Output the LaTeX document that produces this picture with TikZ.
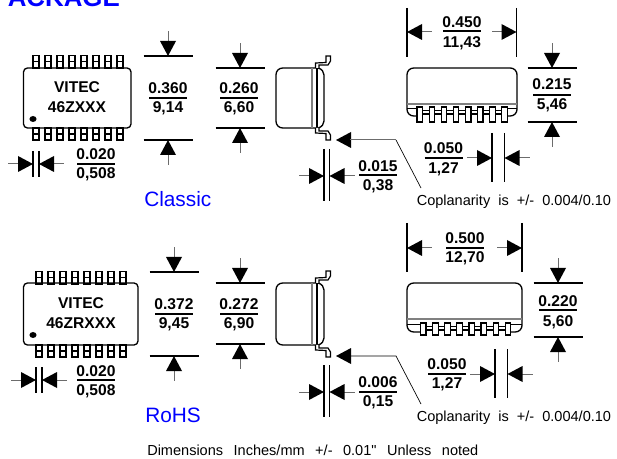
\documentclass[tikz,border=0pt]{standalone}
\usepackage{fontspec}
\setmainfont{Liberation Sans}
\newfontfamily\straightfont{Liberation Sans}
\usepackage{xcolor}
\usetikzlibrary{shapes.misc}

\tikzset{
    dimtext/.style={font=\fontsize{11.7}{13}\selectfont\bfseries, anchor=base, yshift=-4.2pt, inner sep=0pt},
    plaintext/.style={font=\straightfont\fontsize{10.9}{13}\selectfont, anchor=base west, yshift=-3.9pt, inner sep=0pt},
    bluetext/.style={font=\fontsize{15.6}{18}\selectfont, text=blue, anchor=base west, yshift=-5.6pt, inner sep=0pt},
    dimbar/.style={line width=1pt},
    dimline/.style={line width=1pt},
    stemline/.style={line width=0.75pt, gray!85!black},
    bodyline/.style={line width=1pt, rounded corners=3pt},
    pinline/.style={line width=0.9pt}
}

% arrow head with tip at (x,y) pointing along the given angle
\newcommand{\dimhead}[3]{
    \begin{scope}[shift={(#1,#2)}, rotate=#3]
        \draw[stemline] (-14,0) -- (-25,0);
        \fill[black] (0,0) -- (-15,8) -- (-15,-8) -- cycle;
    \end{scope}
}
% x, line y top, line y bottom: extension lines with arrows from outside
\newcommand{\heightdim}[3]{
    \draw[dimline] (#1-24.5,#2) -- (#1+24.5,#2);
    \draw[dimline] (#1-24.5,#3) -- (#1+24.5,#3);
    \dimhead{#1}{#2}{-90}
    \dimhead{#1}{#3}{90}
}
% left x, right x, y top, y bottom, y of arrows: arrows from outside
\newcommand{\gapdim}[5]{
    \draw[dimline] (#1,#3) -- (#1,#4);
    \draw[dimline] (#2,#3) -- (#2,#4);
    \dimhead{#1}{#5}{0}
    \dimhead{#2}{#5}{180}
}
% left x, right x, y top, y bottom, y of arrows: arrows from inside
\newcommand{\widthdim}[5]{
    \draw[dimline] (#1,#3) -- (#1,#4);
    \draw[dimline] (#2,#3) -- (#2,#4);
    \dimhead{#1}{#5}{180}
    \dimhead{#2}{#5}{0}
}
% name, x, y top text, y bar, y bottom text, top text, bottom text
\newcommand{\dimlabel}[7]{
    \node[dimtext] (#1top) at (#2,#3) {#6};
    \node[dimtext] (#1bot) at (#2,#5) {#7};
    \draw[dimbar] (#2-19,#4) -- (#2+19,#4);
}
% x of first pin, y body top, y body bottom
\newcommand{\pinrows}[3]{
    \foreach \i in {0,...,7} {
        \draw[pinline] (#1+12*\i,#2-12.5) rectangle (#1+12*\i+6,#2);
        \draw[pinline] (#1+12*\i,#2-6.5) -- (#1+12*\i+6,#2-6.5);
        \draw[pinline] (#1+12*\i,#3) rectangle (#1+12*\i+6,#3+12);
        \draw[pinline] (#1+12*\i,#3+6) -- (#1+12*\i+6,#3+6);
    }
}
% y body top, y body bottom
\newcommand{\sideview}[2]{
    \draw[bodyline, rounded corners=5pt] (317,#1) -- (276,#1) -- (276,#2) -- (317,#2);
    \draw[line width=1pt] (317,#1) -- (317,#2);
    \draw[line width=1pt] (318,#1) .. controls (322,#1+1) and (324,#1+4) .. (324,#1+7) -- (324,#2-7) .. controls (324,#2-4) and (322,#2-1) .. (318,#2);
    \draw[line width=0.8pt, gray] (312,#1) -- (312,#2);
    \draw[pinline, fill=white] (315.5,#1) -- (315.5,#1-5) -- (326,#1-5.5) -- (326,#1-12) -- (330.5,#1-12) -- (330.5,#1-7) -- (328,#1-3) -- (319,#1-3) -- (319,#1);
    \draw[pinline, fill=white] (315.5,#2) -- (315.5,#2+5) -- (326,#2+5.5) -- (326,#2+12) -- (330.5,#2+12) -- (330.5,#2+7) -- (328,#2+3) -- (319,#2+3) -- (319,#2);
}
% x left, x right, y top, y pins top, y outline end, y pin bottom, x of first pin, y gray line
\newcommand{\frontview}[8]{
    \draw[line width=1pt, rounded corners=5pt] (#7,#5) -- (#1,#5) -- (#1,#3) -- (#2,#3) -- (#2,#5) -- (#7+90,#5);
    \draw[line width=0.8pt, gray] (#1,#8) -- (#2,#8);
    \draw[line width=1pt] (#1,#4+1.5) -- (#7,#4+1.5);
    \draw[line width=1pt] (#7+90,#4+1.5) -- (#2,#4+1.5);
    \draw[line width=0.8pt] (#7,#5-5.5) -- (#7+90,#5-5.5);
    \draw[line width=0.8pt] (#7,#5-2) -- (#7+90,#5-2);
    \foreach \i in {0,...,7} {
        \draw[pinline, fill=white] (#7+12.1*\i,#4) rectangle (#7+12.1*\i+5.5,#6);
    }
}

\begin{document}
\begin{tikzpicture}[x=0.75pt, y=-0.75pt]
    \useasboundingbox (0,0) rectangle (617,459);
    \fill[white] (0,0) rectangle (617,459);

    \node[font=\fontsize{19.4}{22}\selectfont\bfseries, text=blue, anchor=base west, inner sep=0pt] (title) at (7.5,6.5) {ACKAGE};

    % Classic
    \draw[bodyline] (23.5,68) rectangle (131,128);
    \pinrows{33}{68}{128}
    \fill[black] (33,119) ellipse (3.6 and 3);
    \node[dimtext] (markone) at (77,87) {VITEC};
    \node[dimtext] (parttwo) at (77,107) {46ZXXX};
    \heightdim{168}{56}{140}
    \dimlabel{hone}{168}{88}{98}{107}{0.360}{9,14}
    \gapdim{33}{39}{151}{177}{164}
    \dimlabel{pone}{96}{154}{164}{173}{0.020}{0,508}
    \node[bluetext] (classic) at (144,199) {Classic};

    \sideview{68}{128}
    \heightdim{240}{68}{128}
    \dimlabel{htwo}{239}{88}{98}{107}{0.260}{6,60}
    \gapdim{324}{329.5}{149}{201}{176}
    \dimlabel{lone}{378}{166}{175}{185}{0.015}{0,38}

    \frontview{407}{517}{68}{107}{116}{122}{417}{104}
    \widthdim{407}{516.5}{8}{57}{32}
    \dimlabel{wone}{462}{22}{31}{42}{0.450}{11,43}
    \heightdim{552}{68}{122}
    \dimlabel{hthree}{552}{84}{95}{104}{0.215}{5,46}
    \gapdim{492}{504.5}{133}{182}{158}
    \dimlabel{gone}{443.5}{148}{158}{168}{0.050}{1,27}

    \node[plaintext] (coplone) at (416.5,200) {Coplanarity\ \ is\ \ +/-\ \ 0.004/0.10};
    \coordinate (bendone) at (396,140);
    \coordinate (footone) at (421,188);
    \coordinate (tipone) at (336,140);
    \fill[black] (tipone) -- (351,132) -- (351,148) -- cycle;
    \draw[stemline] (tipone) ++(14,0) -- (bendone);
    \draw[line width=0.5pt] (bendone) -- (footone);

    % RoHS
    \draw[bodyline] (23.5,283) rectangle (138,345);
    \pinrows{36}{284}{345}
    \fill[black] (33,335) ellipse (3.6 and 3);
    \node[dimtext] (markthree) at (81,303) {VITEC};
    \node[dimtext] (partfour) at (81,323) {46ZRXXX};
    \heightdim{174}{272}{356}
    \dimlabel{hfour}{174}{304}{314}{323}{0.372}{9,45}
    \gapdim{36}{42}{367}{393}{380}
    \dimlabel{ptwo}{96}{371}{380}{390}{0.020}{0,508}
    \node[bluetext] (rohs) at (145,415) {RoHS};

    \sideview{283}{345}
    \heightdim{240}{283}{344}
    \dimlabel{hfive}{239}{304}{314}{323}{0.272}{6,90}
    \gapdim{324}{329.5}{365}{417}{392}
    \dimlabel{ltwo}{378}{382}{392}{401}{0.006}{0,15}

    \frontview{407}{522}{283}{323}{332}{335}{420.5}{319}
    \widthdim{407}{522}{223}{272}{248}
    \dimlabel{wtwo}{465}{238}{248}{257}{0.500}{12,70}
    \heightdim{558}{283}{337}
    \dimlabel{hsix}{558}{301}{310}{321}{0.220}{5,60}
    \gapdim{495}{507.5}{349}{398}{374}
    \dimlabel{gtwo}{447}{364}{374}{383}{0.050}{1,27}

    \node[plaintext] (copltwo) at (416.5,416) {Coplanarity\ \ is\ \ +/-\ \ 0.004/0.10};
    \coordinate (bendtwo) at (396,356);
    \coordinate (foottwo) at (421,404);
    \coordinate (tiptwo) at (336,356);
    \fill[black] (tiptwo) -- (351,348) -- (351,364) -- cycle;
    \draw[line width=0.5pt] (tiptwo) ++(14,0) -- (bendtwo) -- (foottwo);

    \node[plaintext] (note) at (147,450) {Dimensions\ \ \,Inches/mm\ \ \,+/-\ \ \,0.01"\ \ \,Unless\ \ \,noted};
\end{tikzpicture}
\end{document}
